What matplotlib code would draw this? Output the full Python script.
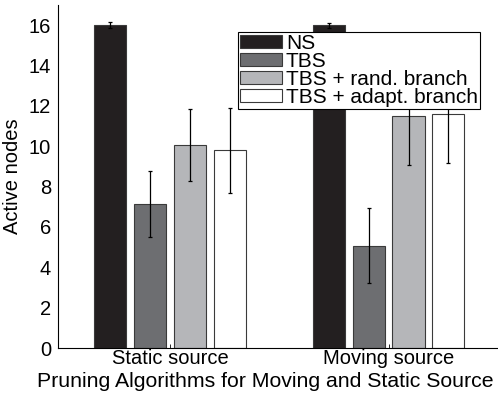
import numpy as np
import matplotlib
matplotlib.use('Agg')
import matplotlib.pyplot as plt

plt.rcParams['font.family'] = ['Liberation Sans', 'DejaVu Sans']

# data
groups = ['Static source', 'Moving source']
series = ['NS', 'TBS', 'TBS + rand. branch', 'TBS + adapt. branch']
means = [
    [16.0, 16.0],    # NS
    [7.12, 5.08],    # TBS
    [10.08, 11.5],   # TBS + rand. branch
    [9.8, 11.6],     # TBS + adapt. branch
]
errs = [
    [0.15, 0.13],
    [1.63, 1.84],
    [1.78, 2.44],
    [2.1, 2.42],
]
colors = ['#231f20', '#6d6e71', '#b5b6b9', '#ffffff']

fig = plt.figure(figsize=(4.98, 3.96), dpi=100)
ax = fig.add_axes([58 / 498, 1 - 348 / 396, 440 / 498, 343 / 396])

x = np.arange(1, len(groups) + 1)
width = 0.147
step = 0.182
for i, name in enumerate(series):
    pos = x + (i - 1.5) * step
    ax.bar(pos, means[i], width, color=colors[i], edgecolor='#3a3a3a',
           linewidth=0.8, label=name, zorder=2)
    ax.errorbar(pos, means[i], yerr=errs[i], fmt='none', ecolor='black',
                elinewidth=0.9, capsize=1.5, capthick=0.9, zorder=3)

ax.set_xlim(0.488, 2.5)
ax.set_ylim(0, 17)
ax.set_yticks(range(0, 17, 2))
ax.set_xticks(x)
ax.set_xticklabels(groups)
ax.tick_params(axis='both', labelsize=14.5, direction='in', length=3, width=0.6)
ax.tick_params(axis='y', length=0, pad=5)
ax.tick_params(axis='x', pad=1)
ax.spines['top'].set_visible(False)
ax.spines['right'].set_visible(False)
ax.spines['left'].set_linewidth(0.8)
ax.spines['bottom'].set_linewidth(0.8)
ax.set_ylabel('Active nodes', fontsize=14.5, labelpad=5)
ax.set_xlabel('Pruning Algorithms for Moving and Static Source', fontsize=15.3, labelpad=0)
ax.xaxis.set_label_coords(0.472, -0.07, transform=ax.transAxes)
ax.xaxis.label.set_va('top')

leg = ax.legend(loc='upper left', bbox_to_anchor=(180 / 440, 1 - 27 / 343),
                fontsize=15, frameon=True, fancybox=False, framealpha=1,
                edgecolor='black', borderpad=0.1, labelspacing=-0.05,
                handlelength=2.0, handleheight=0.55, handletextpad=0.2,
                borderaxespad=0)
leg.get_frame().set_linewidth(0.8)
leg.set_zorder(5)

plt.savefig('out.png', dpi=100)
